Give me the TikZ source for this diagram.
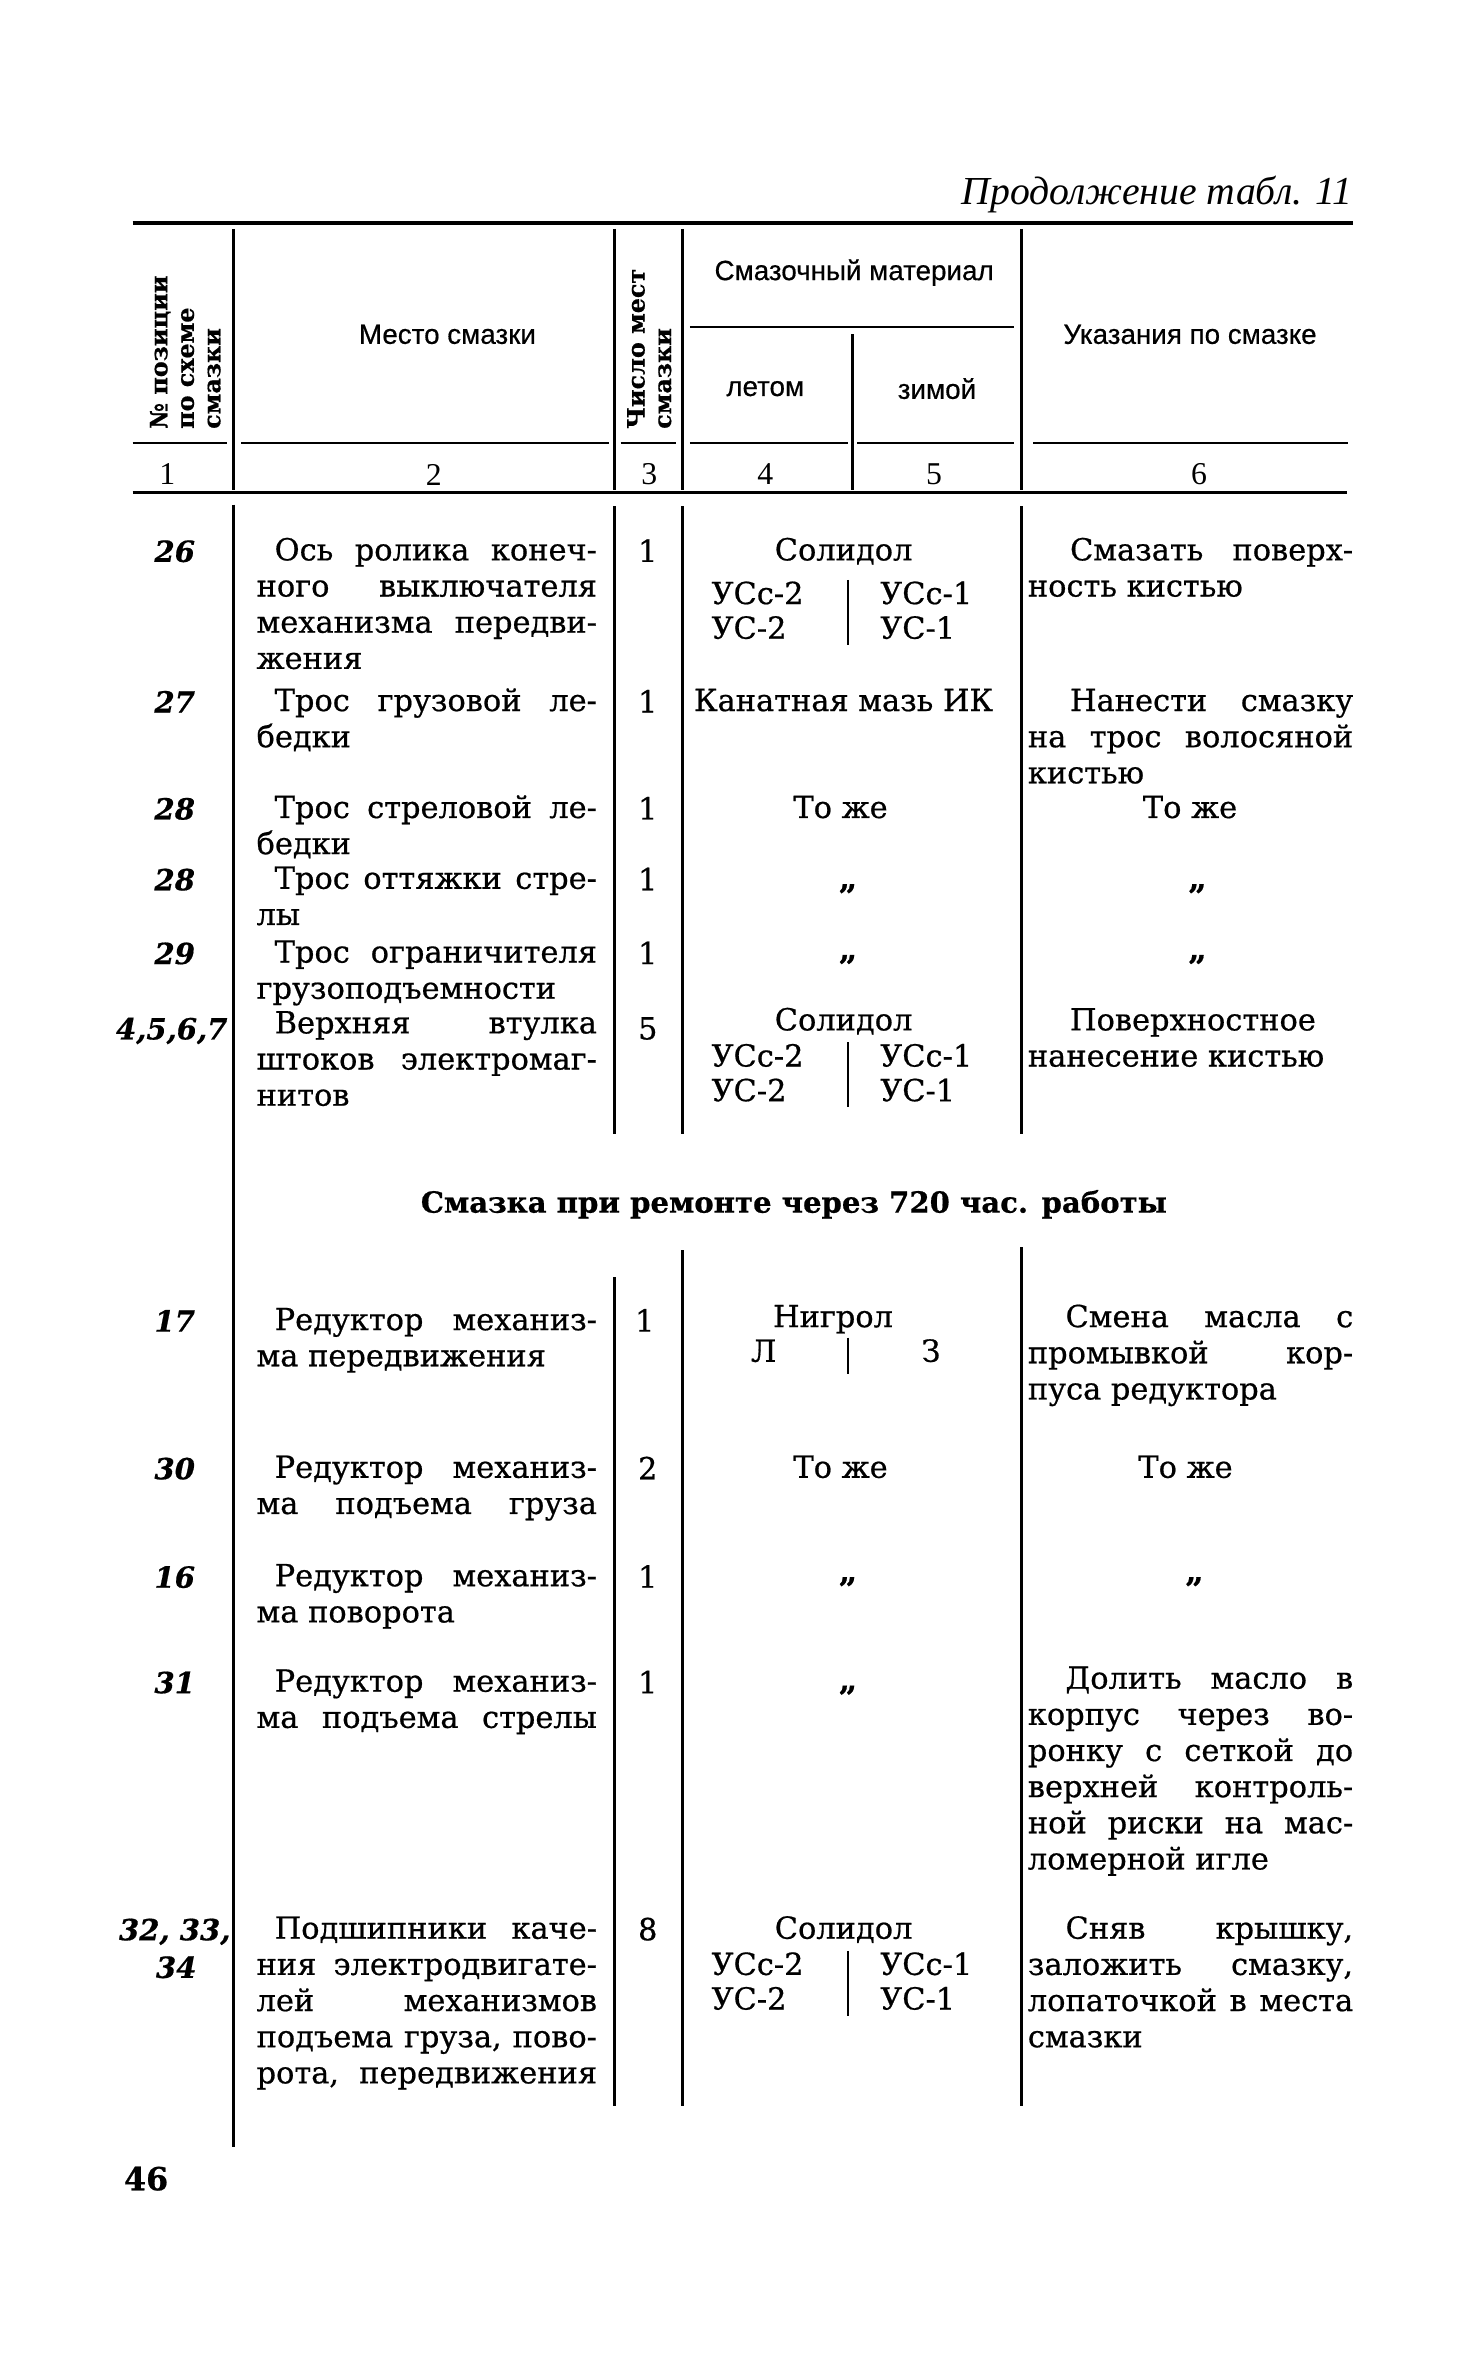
\documentclass[tikz,border=0pt]{standalone}
\usepackage{fontspec}
\setmainfont[FakeBold=0.6]{DejaVu Serif}
\newfontfamily\capfont{Liberation Serif}
\newfontfamily\headfont[FakeBold=0.5]{Liberation Sans}
\usetikzlibrary{calc}

% Солидол with summer / winter grades
\newcommand{\greaseblock}[3]{%
  \node[mat] (#1) at (560,#2) {Солидол};
  \node[mat,anchor=base west] (#1-ls) at (472,#3) {УСс-2};
  \node[mat,anchor=base west] (#1-ws) at (584,#3) {УСс-1};
  \node[mat,anchor=base west] (#1-l) at (472,#3+23) {УС-2};
  \node[mat,anchor=base west] (#1-w) at (584,#3+23) {УС-1};
  \draw[colline] (563,#3-16) -- (563,#3+27);
}

\begin{document}
\begin{tikzpicture}[x=0.02cm,y=-0.02cm,
  every node/.style={inner sep=0pt},
  body/.style={font=\fontsize{11.5}{13.66}\selectfont},
  place/.style={body,anchor=base west,align=justify,text width=4.52cm},
  hint/.style={body,anchor=base west,align=justify,text width=4.32cm},
  lastfull/.style={execute at begin node={\parfillskip=0pt}},
  nr/.style={anchor=base,font=\fontsize{11}{13}\selectfont\bfseries\itshape},
  cnt/.style={body,anchor=base},
  mat/.style={anchor=base,font=\fontsize{11.5}{13.66}\selectfont},
  ditto/.style={anchor=center,font=\fontsize{12}{14}\selectfont\bfseries},
  head/.style={font=\headfont\fontsize{10.5}{12}\selectfont},
  vert/.style={rotate=90,anchor=west,align=left,font=\fontsize{9}{10}\selectfont\bfseries},
  colnr/.style={font=\capfont\fontsize{12}{14}\selectfont},
  thick rule/.style={line width=1.3pt},
  colline/.style={line width=0.95pt}]

\useasboundingbox (0,0) rectangle (980,1568);

\node[anchor=base east,font=\capfont\fontsize{15}{17}\selectfont\itshape] (cont) at (898,136) {Продолжение табл. 11};

% table head
\draw[thick rule] (88,148) -- (898,148);
\draw[thick rule] (88,327) -- (894,327);
\foreach \x in {155,408,453,678} \draw[colline] (\x,152) -- (\x,325);
\draw[colline] (566,222) -- (566,325);
\draw[colline] (458,217) -- (673,217);
\foreach \a/\b in {88/151,160/404,412/449,458/563,569/673,686/895}
  \draw[colline] (\a,294) -- (\b,294);

\node[vert] (h1) at (123,285) {№ позиции\\по схеме\\смазки};
\node[head] (h2) at (297,222) {Место смазки};
\node[vert] (h3) at (431,285) {Число мест\\смазки};
\node[head] (h4) at (567,181) {Смазочный материал};
\node[head] (h4a) at (508,258) {летом};
\node[head] (h4b) at (622,258) {зимой};
\node[head] (h6) at (790,222) {Указания по смазке};

\foreach \x/\lbl [count=\i] in {111/1,288/2,431/3,508/4,620/5,796/6}
  \node[colnr] (n\i) at (\x,315) {\lbl};

% first part
\draw[colline] (155,335) -- (155,1425);
\foreach \x in {408,453,678} \draw[colline] (\x,336) -- (\x,753);

\node[nr] (p26) at (116,373) {26};
\node[place] (t26) at (170,372) {\hspace*{0.24cm}Ось~ролика~конеч-\linebreak ного~выключателя\linebreak механизма~передви-\linebreak жения};
\node[cnt] (c26) at (430,373) {1};
\greaseblock{m26}{372}{401}
\node[hint] (u26) at (682,372) {\hspace*{0.56cm}Смазать~поверх-\linebreak ность~кистью};

\node[nr] (p27) at (116,473) {27};
\node[place] (t27) at (170,472) {\hspace*{0.24cm}Трос~грузовой~ле-\linebreak бедки};
\node[cnt] (c27) at (430,473) {1};
\node[mat] (m27) at (560,472) {Канатная мазь ИК};
\node[hint] (u27) at (682,472) {\hspace*{0.56cm}Нанести~смазку\linebreak на~трос~волосяной\linebreak кистью};

\node[nr] (p28) at (116,544) {28};
\node[place] (t28) at (170,543) {\hspace*{0.24cm}Трос~стреловой~ле-\linebreak бедки};
\node[cnt] (c28) at (430,544) {1};
\node[mat] (m28) at (558,543) {То же};
\node[mat] (u28) at (790,543) {То же};

\node[nr] (p28b) at (116,591) {28};
\node[place] (t28b) at (170,590) {\hspace*{0.24cm}Трос~оттяжки~стре-\linebreak лы};
\node[cnt] (c28b) at (430,591) {1};
\node[ditto] (m28b) at (563,590) {„};
\node[ditto] (u28b) at (795,590) {„};

\node[nr] (p29) at (116,640) {29};
\node[place] (t29) at (170,639) {\hspace*{0.24cm}Трос~ограничителя\linebreak грузоподъемности};
\node[cnt] (c29) at (430,640) {1};
\node[ditto] (m29) at (563,637) {„};
\node[ditto] (u29) at (795,637) {„};

\node[nr] (p4) at (114,690) {4,5,6,7};
\node[place] (t4) at (170,686) {\hspace*{0.24cm}Верхняя~втулка\linebreak штоков~электромаг-\linebreak нитов};
\node[cnt] (c4) at (430,690) {5};
\greaseblock{m4}{684}{708}
\node[hint] (u4) at (682,684) {\hspace*{0.56cm}Поверхностное\linebreak нанесение~кистью};

\node[anchor=base,font=\fontsize{11}{13}\selectfont\bfseries] (sect) at (527,805) {Смазка при ремонте через 720 час. работы};

% second part
\foreach \x/\y in {408/848,453/830,678/828} \draw[colline] (\x,\y) -- (\x,1398);

\node[nr] (p17) at (116,884) {17};
\node[place] (t17) at (170,883) {\hspace*{0.24cm}Редуктор~механиз-\linebreak ма~передвижения};
\node[cnt] (c17) at (428,884) {1};
\node[mat] (ngr) at (553,881) {Нигрол};
\node[mat] (ngr-l) at (507,904) {Л};
\node[mat] (ngr-w) at (618,904) {З};
\draw[colline] (563,888) -- (563,912);
\node[hint] (u17) at (682,881) {\hspace*{0.5cm}Смена~масла~с\linebreak промывкой~кор-\linebreak пуса~редуктора};

\node[nr] (p30) at (116,982) {30};
\node[place,lastfull] (t30) at (170,981) {\hspace*{0.24cm}Редуктор~механиз-\linebreak ма~подъема~груза};
\node[cnt] (c30) at (430,982) {2};
\node[mat] (m30) at (558,981) {То же};
\node[mat] (u30) at (787,981) {То же};

\node[nr] (p16) at (116,1054) {16};
\node[place] (t16) at (170,1053) {\hspace*{0.24cm}Редуктор~механиз-\linebreak ма~поворота};
\node[cnt] (c16) at (430,1054) {1};
\node[ditto] (m16) at (563,1050) {„};
\node[ditto] (u16) at (793,1050) {„};

\node[nr] (p31) at (116,1124) {31};
\node[place,lastfull] (t31) at (170,1123) {\hspace*{0.24cm}Редуктор~механиз-\linebreak ма~подъема~стрелы};
\node[cnt] (c31) at (430,1124) {1};
\node[ditto] (m31) at (563,1122) {„};
\node[hint] (u31) at (682,1121) {\hspace*{0.5cm}Долить~масло~в\linebreak корпус~через~во-\linebreak ронку~с~сеткой~до\linebreak верхней~контроль-\linebreak ной~риски~на~мас-\linebreak ломерной~игле};

\node[nr] (p32) at (116,1288) {32, 33,};
\node[nr] (p34) at (117,1313) {34};
\node[place,lastfull] (t32) at (170,1287) {\hspace*{0.24cm}Подшипники~каче-\linebreak ния~электродвигате-\linebreak лей~механизмов\linebreak подъема~груза,~пово-\linebreak рота,~передвижения};
\node[cnt] (c32) at (430,1288) {8};
\greaseblock{m32}{1287}{1311}
\node[hint] (u32) at (682,1287) {\hspace*{0.5cm}Сняв~крышку,\linebreak заложить~смазку,\linebreak лопаточкой~в~места\linebreak смазки};

\node[anchor=base,font=\fontsize{12}{14}\selectfont\bfseries] (page) at (97,1454) {46};

\end{tikzpicture}
\end{document}
